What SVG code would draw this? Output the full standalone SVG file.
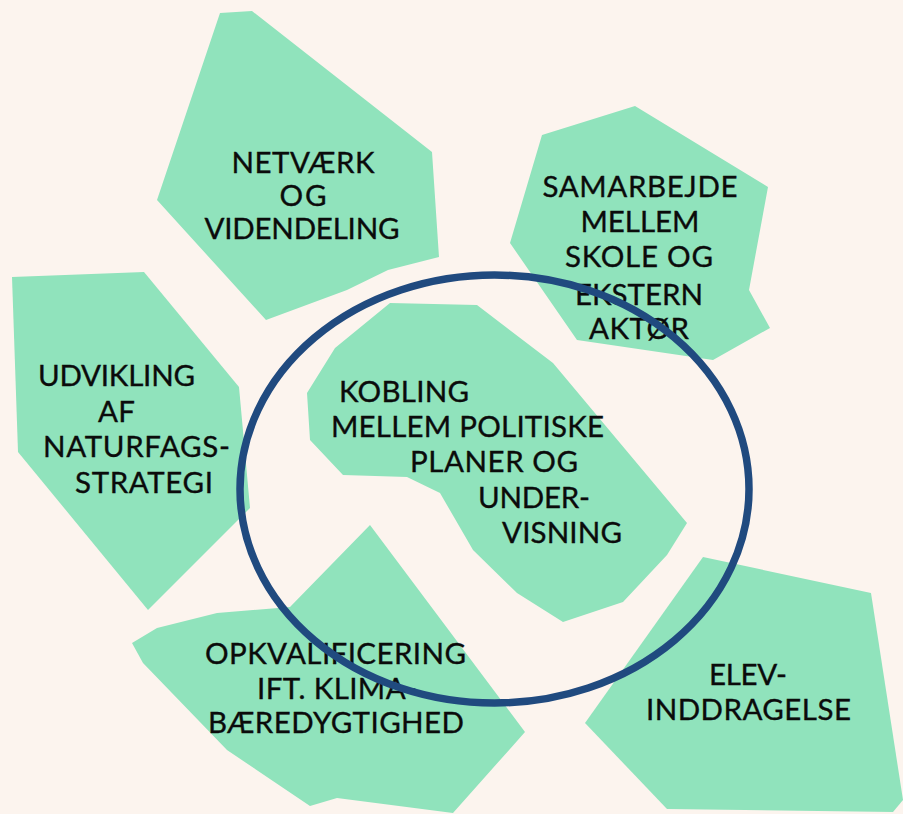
<svg xmlns="http://www.w3.org/2000/svg" width="903" height="814" viewBox="0 0 903 814">
<style>
.shape{fill:#90e3bc;stroke:none}
.lbl{font-family:Lato,"Open Sans","Liberation Sans",sans-serif;font-size:29.5px;fill:#0b0b0b;stroke:#0b0b0b;stroke-width:0.35;text-anchor:middle}
.ring{fill:none;stroke:#204a7f;stroke-width:7.5}
</style>
<rect x="0" y="0" width="903" height="814" fill="#fcf4ee"/>
<g id="node-netvaerk">
<polygon class="shape" points="220,13 252,11 432,152 439,257 388,270 347,290 266,320 157,200"/>
<text class="lbl" x="303" y="173" textLength="143" lengthAdjust="spacing">NETVÆRK</text>
<text class="lbl" x="303" y="206" textLength="47" lengthAdjust="spacing">OG</text>
<text class="lbl" x="302" y="239" textLength="195" lengthAdjust="spacing">VIDENDELING</text>
</g>
<g id="node-samarbejde">
<polygon class="shape" points="542,135 635,106 768,187 749,290 770,328 713,360 577,340 510,243"/>
<text class="lbl" x="640" y="197" textLength="195" lengthAdjust="spacing">SAMARBEJDE</text>
<text class="lbl" x="640" y="232" textLength="119" lengthAdjust="spacing">MELLEM</text>
<text class="lbl" x="639" y="267" textLength="148" lengthAdjust="spacing">SKOLE OG</text>
<text class="lbl" x="639" y="305" textLength="128" lengthAdjust="spacing">EKSTERN</text>
<text class="lbl" x="639" y="339" textLength="100" lengthAdjust="spacing">AKTØR</text>
</g>
<g id="node-udvikling">
<polygon class="shape" points="12,277 144,272 239,387 250,508 148,610 18,452"/>
<text class="lbl" x="116.5" y="386" textLength="157" lengthAdjust="spacing">UDVIKLING</text>
<text class="lbl" x="116.5" y="422" textLength="37" lengthAdjust="spacing">AF</text>
<text class="lbl" x="136.5" y="457" textLength="187" lengthAdjust="spacing">NATURFAGS-</text>
<text class="lbl" x="144" y="493" textLength="138" lengthAdjust="spacing">STRATEGI</text>
</g>
<g id="node-kobling">
<polygon class="shape" points="390,303 477,305 553,363 687,523 667,555 623,602 563,622 517,593 473,550 440,493 407,477 343,475 310,440 307,393 335,348"/>
<text class="lbl" x="404" y="402" textLength="130" lengthAdjust="spacing">KOBLING</text>
<text class="lbl" x="467.5" y="437" textLength="273" lengthAdjust="spacing">MELLEM POLITISKE</text>
<text class="lbl" x="494" y="472" textLength="168" lengthAdjust="spacing">PLANER OG</text>
<text class="lbl" x="534" y="508" textLength="112" lengthAdjust="spacing">UNDER-</text>
<text class="lbl" x="562" y="543" textLength="120" lengthAdjust="spacing">VISNING</text>
</g>
<g id="node-opkvalificering">
<polygon class="shape" points="370,525 525,732 453,813 337,798 310,806 227,750 143,663 132,643 157,628 217,613 290,607"/>
<text class="lbl" x="335.5" y="664" textLength="261" lengthAdjust="spacing">OPKVALIFICERING</text>
<text class="lbl" x="337" y="699" textLength="160" lengthAdjust="spacing">IFT. KLIMA-</text>
<text class="lbl" x="336" y="733" textLength="256" lengthAdjust="spacing">BÆREDYGTIGHED</text>
</g>
<g id="node-elev">
<polygon class="shape" points="703,557 871,593 903,800 893,812 667,809 585,723"/>
<text class="lbl" x="748" y="685" textLength="78" lengthAdjust="spacing">ELEV-</text>
<text class="lbl" x="748.5" y="720" textLength="205" lengthAdjust="spacing">INDDRAGELSE</text>
</g>
<g id="connectors">
<ellipse class="ring" cx="494.5" cy="489" rx="254.5" ry="214"/>
</g>
</svg>
